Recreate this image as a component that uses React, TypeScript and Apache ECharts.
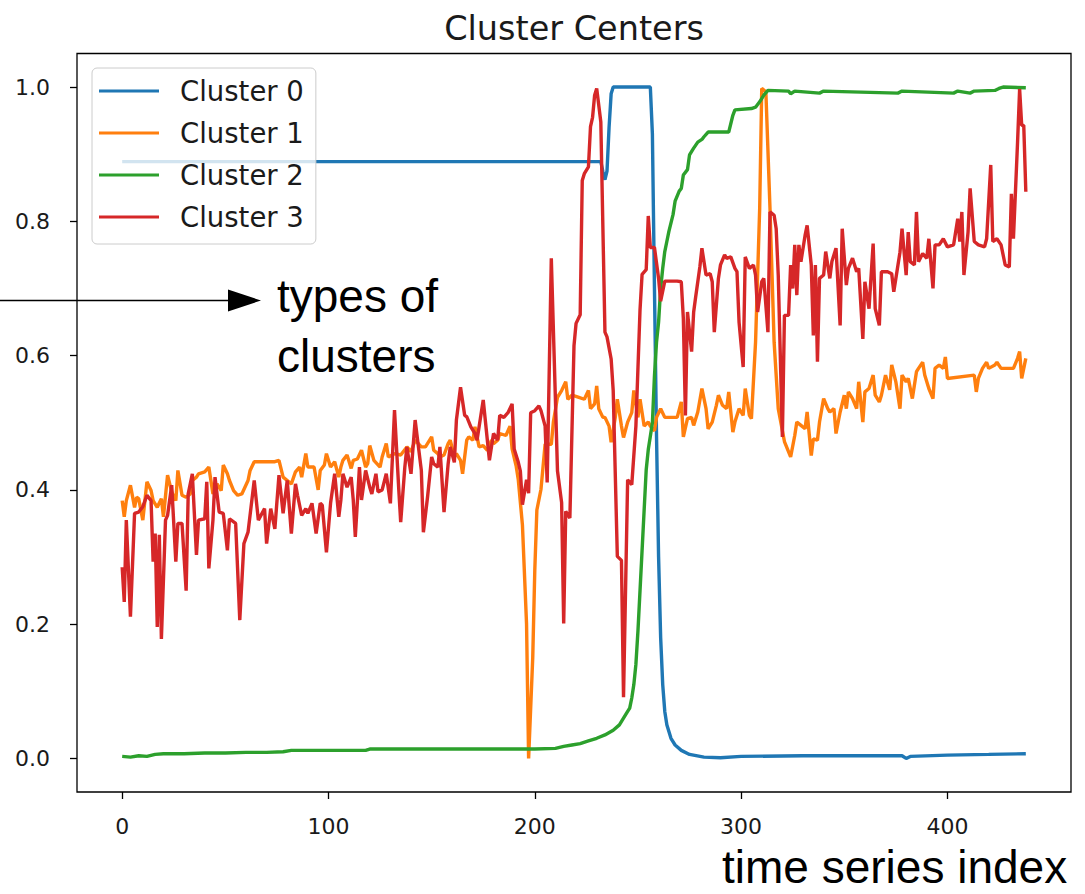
import React, { useEffect, useRef } from 'react';
import * as echarts from 'echarts';

// Series names and the tab10 colours used for them
const seriesNames = ['Cluster 0', 'Cluster 1', 'Cluster 2', 'Cluster 3'];
const seriesColors = ['#1f77b4', '#ff7f0e', '#2ca02c', '#d62728'];

// Axis ticks
const xTicks = [0, 100, 200, 300, 400];
const yTicks = [0, 0.2, 0.4, 0.6, 0.8, 1.0];
const lastIndex = 438;

// Cluster centres as [time series index, value]
const cluster0: [number, number][] = [
  [0, 0.889], [232, 0.889], [233, 0.874], [234, 0.862], [235, 0.875], [236, 0.94], [237, 0.99], [238, 1.0],
  [256, 1.0], [257, 0.93], [258, 0.7], [259, 0.48], [260, 0.3], [261, 0.18], [262, 0.11], [263, 0.07],
  [264, 0.05], [266, 0.03], [268, 0.02], [271, 0.012], [275, 0.006], [282, 0.002], [290, 0.001],
  [300, 0.003], [330, 0.004], [360, 0.004], [378, 0.004], [380, 0.0], [382, 0.003], [400, 0.005],
  [420, 0.006], [438, 0.007],
];

const cluster1: [number, number][] = [
  [0, 0.384], [1, 0.36], [2, 0.384], [4, 0.407], [6, 0.374], [7, 0.389], [8, 0.387], [10, 0.355],
  [12, 0.412], [14, 0.399], [15, 0.384], [17, 0.374], [19, 0.387], [20, 0.36], [22, 0.422], [24, 0.397],
  [26, 0.384], [27, 0.429], [29, 0.392], [31, 0.389], [33, 0.394], [34, 0.414], [36, 0.419], [37, 0.424],
  [40, 0.427], [42, 0.434], [44, 0.394], [46, 0.409], [48, 0.399], [49, 0.437], [51, 0.424], [52, 0.414],
  [54, 0.399], [56, 0.392], [58, 0.394], [61, 0.414], [62, 0.429], [64, 0.442], [74, 0.442], [76, 0.444],
  [78, 0.419], [80, 0.414], [82, 0.409], [84, 0.427], [86, 0.434], [87, 0.419], [89, 0.454], [90, 0.434],
  [93, 0.434], [95, 0.4], [96, 0.429], [98, 0.437], [99, 0.454], [101, 0.434], [103, 0.442], [105, 0.419],
  [106, 0.434], [107, 0.444], [109, 0.452], [111, 0.432], [112, 0.444], [114, 0.446], [116, 0.459],
  [118, 0.434], [119, 0.439], [120, 0.466], [122, 0.444], [125, 0.434], [126, 0.449], [128, 0.469],
  [129, 0.449], [132, 0.454], [135, 0.452], [138, 0.464], [140, 0.457], [142, 0.474], [145, 0.464],
  [147, 0.464], [150, 0.479], [151, 0.459], [153, 0.454], [154, 0.449], [156, 0.452], [158, 0.469],
  [159, 0.474], [161, 0.449], [162, 0.454], [164, 0.444], [165, 0.424], [167, 0.474], [168, 0.479],
  [170, 0.474], [171, 0.494], [173, 0.464], [175, 0.466], [177, 0.459], [179, 0.474], [180, 0.469],
  [182, 0.474], [183, 0.484], [186, 0.481], [188, 0.495], [189, 0.461], [191, 0.435], [192, 0.415],
  [194, 0.348], [196, 0.2], [197, 0.0], [199, 0.15], [200, 0.281], [201, 0.37], [203, 0.401], [205, 0.468],
  [208, 0.468], [209, 0.501], [211, 0.538], [213, 0.548], [215, 0.561], [216, 0.535], [218, 0.541],
  [221, 0.538], [224, 0.535], [226, 0.548], [227, 0.521], [229, 0.528], [230, 0.555], [231, 0.521],
  [233, 0.508], [234, 0.508], [236, 0.495], [237, 0.471], [239, 0.508], [240, 0.535], [242, 0.495],
  [243, 0.478], [245, 0.501], [247, 0.515], [248, 0.548], [250, 0.508], [251, 0.535], [253, 0.495],
  [255, 0.501], [256, 0.495], [258, 0.488], [259, 0.508], [261, 0.521], [263, 0.508], [269, 0.508],
  [271, 0.531], [272, 0.479], [274, 0.506], [276, 0.508], [277, 0.496], [279, 0.516], [281, 0.551],
  [283, 0.521], [284, 0.491], [286, 0.501], [288, 0.526], [289, 0.541], [291, 0.526], [293, 0.521],
  [294, 0.546], [296, 0.486], [297, 0.501], [299, 0.521], [301, 0.511], [302, 0.551], [304, 0.511],
  [305, 0.506], [307, 0.62], [309, 0.819], [310, 0.998], [312, 0.993], [314, 0.819], [316, 0.62],
  [318, 0.521], [321, 0.472], [324, 0.449], [326, 0.481], [327, 0.501], [329, 0.496], [331, 0.491],
  [332, 0.516], [334, 0.451], [335, 0.476], [337, 0.474], [338, 0.501], [340, 0.536], [342, 0.521],
  [343, 0.516], [345, 0.521], [346, 0.484], [348, 0.516], [350, 0.541], [351, 0.521], [352, 0.546],
  [354, 0.536], [356, 0.521], [357, 0.561], [359, 0.501], [360, 0.546], [362, 0.551], [364, 0.571],
  [365, 0.541], [367, 0.531], [368, 0.541], [370, 0.571], [372, 0.549], [373, 0.586], [375, 0.561],
  [377, 0.521], [378, 0.571], [380, 0.561], [381, 0.566], [383, 0.536], [385, 0.576], [386, 0.581],
  [388, 0.59], [389, 0.571], [391, 0.551], [393, 0.536], [394, 0.581], [396, 0.586], [398, 0.581],
  [399, 0.598], [400, 0.566], [413, 0.571], [414, 0.546], [415, 0.566], [417, 0.581], [419, 0.59],
  [420, 0.581], [423, 0.586], [424, 0.59], [426, 0.581], [432, 0.581], [434, 0.596], [435, 0.606],
  [436, 0.566], [437, 0.581], [438, 0.596],
];

const cluster2: [number, number][] = [
  [0, 0.003], [4, 0.002], [8, 0.004], [12, 0.003], [16, 0.006], [20, 0.007], [30, 0.007], [40, 0.008],
  [50, 0.008], [60, 0.009], [70, 0.009], [78, 0.01], [82, 0.012], [100, 0.012], [118, 0.012],
  [120, 0.014], [160, 0.014], [200, 0.014], [210, 0.015], [214, 0.018], [218, 0.02], [222, 0.022],
  [226, 0.026], [230, 0.03], [234, 0.035], [238, 0.042], [241, 0.05], [243, 0.06], [245, 0.07],
  [246, 0.075], [247, 0.09], [248, 0.11], [249, 0.14], [250, 0.19], [251, 0.25], [252, 0.31],
  [253, 0.37], [254, 0.43], [255, 0.46], [256, 0.48], [257, 0.5], [258, 0.57], [259, 0.62], [260, 0.65],
  [261, 0.7], [262, 0.73], [263, 0.755], [264, 0.77], [265, 0.785], [267, 0.81], [268, 0.83],
  [270, 0.845], [271, 0.849], [272, 0.869], [274, 0.877], [275, 0.899], [277, 0.909], [279, 0.918],
  [281, 0.922], [282, 0.926], [284, 0.933], [294, 0.933], [296, 0.958], [297, 0.966], [305, 0.968],
  [307, 0.97], [309, 0.978], [311, 0.988], [313, 0.995], [323, 0.994], [324, 0.99], [326, 0.994],
  [338, 0.991], [340, 0.994], [376, 0.991], [378, 0.994], [403, 0.991], [405, 0.994], [411, 0.991],
  [413, 0.994], [423, 0.995], [425, 0.998], [427, 1.0], [438, 0.999],
];

const cluster3: [number, number][] = [
  [0, 0.285], [1, 0.233], [2, 0.355], [4, 0.211], [6, 0.365], [8, 0.367], [10, 0.375], [12, 0.392],
  [14, 0.384], [15, 0.293], [16, 0.335], [17, 0.196], [18, 0.333], [19, 0.178], [21, 0.355], [22, 0.362],
  [24, 0.407], [26, 0.293], [27, 0.35], [29, 0.35], [31, 0.25], [32, 0.394], [34, 0.424], [36, 0.303],
  [37, 0.355], [40, 0.357], [41, 0.412], [42, 0.283], [44, 0.355], [45, 0.419], [47, 0.367], [49, 0.365],
  [51, 0.31], [52, 0.357], [55, 0.35], [57, 0.206], [59, 0.32], [61, 0.337], [64, 0.414], [66, 0.355],
  [69, 0.372], [70, 0.32], [72, 0.372], [74, 0.342], [76, 0.422], [78, 0.365], [80, 0.414], [82, 0.335],
  [84, 0.409], [85, 0.392], [87, 0.362], [89, 0.372], [90, 0.365], [92, 0.38], [94, 0.335], [96, 0.38],
  [97, 0.377], [99, 0.307], [101, 0.38], [103, 0.424], [105, 0.36], [106, 0.385], [107, 0.424],
  [109, 0.404], [111, 0.419], [112, 0.385], [113, 0.33], [115, 0.434], [116, 0.385], [118, 0.429],
  [120, 0.404], [121, 0.394], [123, 0.424], [124, 0.397], [126, 0.4], [128, 0.424], [130, 0.38],
  [132, 0.519], [134, 0.404], [135, 0.352], [137, 0.434], [138, 0.464], [140, 0.424], [142, 0.504],
  [143, 0.479], [145, 0.429], [146, 0.337], [148, 0.389], [150, 0.449], [151, 0.439], [153, 0.434],
  [154, 0.464], [156, 0.367], [158, 0.439], [159, 0.464], [161, 0.441], [162, 0.504], [164, 0.553],
  [166, 0.511], [167, 0.509], [169, 0.494], [171, 0.484], [172, 0.474], [175, 0.534], [177, 0.474],
  [178, 0.444], [180, 0.484], [182, 0.474], [183, 0.511], [185, 0.508], [187, 0.515], [189, 0.528],
  [190, 0.461], [192, 0.441], [193, 0.428], [194, 0.378], [196, 0.415], [197, 0.395], [198, 0.515],
  [200, 0.518], [202, 0.525], [203, 0.518], [205, 0.495], [206, 0.411], [208, 0.745], [211, 0.428],
  [213, 0.381], [214, 0.201], [215, 0.368], [217, 0.358], [219, 0.615], [220, 0.648], [222, 0.661],
  [223, 0.861], [224, 0.871], [226, 0.881], [227, 0.941], [228, 0.955], [229, 0.988], [230, 0.998],
  [232, 0.948], [234, 0.635], [235, 0.628], [237, 0.595], [238, 0.548], [240, 0.301], [242, 0.295],
  [243, 0.091], [245, 0.415], [247, 0.408], [249, 0.495], [251, 0.668], [252, 0.721], [254, 0.728],
  [255, 0.808], [256, 0.761], [258, 0.761], [260, 0.715], [261, 0.681], [263, 0.711], [269, 0.711],
  [271, 0.71], [272, 0.655], [273, 0.511], [274, 0.665], [276, 0.606], [277, 0.665], [278, 0.688],
  [280, 0.732], [281, 0.76], [283, 0.72], [285, 0.722], [286, 0.71], [287, 0.635], [289, 0.715],
  [290, 0.735], [292, 0.75], [293, 0.745], [295, 0.747], [297, 0.73], [298, 0.725], [299, 0.65],
  [301, 0.583], [302, 0.747], [304, 0.73], [306, 0.735], [307, 0.72], [308, 0.665], [310, 0.71],
  [311, 0.715], [313, 0.635], [314, 0.814], [316, 0.809], [317, 0.789], [318, 0.72], [320, 0.479],
  [321, 0.66], [323, 0.66], [324, 0.735], [325, 0.7], [326, 0.765], [327, 0.69], [328, 0.765],
  [329, 0.74], [331, 0.779], [332, 0.794], [334, 0.735], [335, 0.63], [336, 0.735], [337, 0.591],
  [338, 0.715], [340, 0.72], [341, 0.755], [343, 0.715], [344, 0.74], [346, 0.76], [348, 0.645],
  [349, 0.789], [351, 0.705], [352, 0.73], [354, 0.745], [356, 0.725], [357, 0.73], [359, 0.625],
  [360, 0.71], [362, 0.67], [364, 0.767], [365, 0.67], [367, 0.645], [368, 0.725], [371, 0.725],
  [373, 0.722], [374, 0.695], [377, 0.754], [378, 0.789], [380, 0.72], [381, 0.784], [382, 0.74],
  [384, 0.735], [385, 0.814], [386, 0.74], [388, 0.752], [390, 0.745], [391, 0.774], [393, 0.7],
  [394, 0.765], [396, 0.765], [398, 0.774], [400, 0.762], [403, 0.765], [405, 0.804], [406, 0.77],
  [407, 0.814], [408, 0.72], [410, 0.784], [411, 0.849], [413, 0.77], [415, 0.765], [418, 0.762],
  [419, 0.774], [421, 0.884], [422, 0.77], [424, 0.774], [426, 0.765], [428, 0.735], [430, 0.732],
  [431, 0.841], [432, 0.774], [434, 0.918], [435, 0.997], [436, 0.943], [437, 0.943], [438, 0.844],
];

const clusterData = [cluster0, cluster1, cluster2, cluster3];

const TICK_FONT = 'DejaVu Sans';
const NOTE_FONT = 'Liberation Sans';

export default function App() {
  const ref = useRef<HTMLDivElement>(null);

  useEffect(() => {
    if (!ref.current) return;
    const chart = echarts.init(ref.current, null, { renderer: 'svg' });
    const xPad = 0.05 * lastIndex;

    const tickStyle = { color: '#000', width: 1.3 };

    chart.setOption({
      animation: false,
      backgroundColor: '#ffffff',
      title: {
        text: 'Cluster Centers',
        left: 569,
        top: 6,
        textAlign: 'center',
        textStyle: { fontFamily: TICK_FONT, fontSize: 33.5, fontWeight: 'normal', color: '#1a1a1a' },
      },
      grid: {
        left: 77,
        right: 14,
        top: 53.5,
        bottom: 102,
        show: true,
        borderColor: '#000',
        borderWidth: 1.3,
        backgroundColor: 'transparent',
        containLabel: false,
      },
      legend: {
        orient: 'vertical',
        left: 92,
        top: 68,
        data: seriesNames,
        icon: 'rect',
        itemWidth: 60,
        itemHeight: 3,
        itemGap: 14,
        padding: [9, 12, 13, 7],
        backgroundColor: 'rgba(255,255,255,0.8)',
        borderColor: '#cccccc',
        borderWidth: 1,
        borderRadius: 5,
        textStyle: {
          fontFamily: TICK_FONT,
          fontSize: 27.5,
          color: '#1a1a1a',
          padding: [0, 0, 0, 16],
        },
      },
      xAxis: {
        type: 'value',
        min: -xPad,
        max: lastIndex + xPad,
        splitLine: { show: false },
        axisLine: { show: false, onZero: false },
        axisTick: {
          show: true,
          inside: false,
          length: 7,
          customValues: xTicks,
          lineStyle: tickStyle,
        },
        axisLabel: {
          customValues: xTicks,
          margin: 23,
          fontFamily: TICK_FONT,
          fontSize: 22,
          color: '#1a1a1a',
          formatter: (v: number) => String(v),
        },
      },
      yAxis: {
        type: 'value',
        min: -0.05,
        max: 1.05,
        splitLine: { show: false },
        axisLine: { show: false, onZero: false },
        axisTick: {
          show: true,
          inside: false,
          length: 7,
          customValues: yTicks,
          lineStyle: tickStyle,
        },
        axisLabel: {
          customValues: yTicks,
          margin: 27,
          fontFamily: TICK_FONT,
          fontSize: 22,
          color: '#1a1a1a',
          formatter: (v: number) => v.toFixed(1),
        },
      },
      series: clusterData.map((d, i) => ({
        name: seriesNames[i],
        type: 'line',
        data: d,
        showSymbol: false,
        symbol: 'none',
        color: seriesColors[i],
        lineStyle: { width: 3.4, color: seriesColors[i] },
        emphasis: { disabled: true },
      })),
      graphic: [
        {
          type: 'line',
          z: 100,
          shape: { x1: 0, y1: 300.5, x2: 232, y2: 300.5 },
          style: { stroke: '#000', lineWidth: 1.5 },
        },
        {
          type: 'polygon',
          z: 100,
          shape: { points: [[228, 289.5], [261, 300.5], [228, 311.5]] },
          style: { fill: '#000' },
        },
        {
          type: 'text',
          z: 100,
          x: 277,
          y: 296,
          style: { text: 'types of', font: `46px '${NOTE_FONT}'`, fill: '#000', textVerticalAlign: 'middle' },
        },
        {
          type: 'text',
          z: 100,
          x: 277,
          y: 356,
          style: { text: 'clusters', font: `46px '${NOTE_FONT}'`, fill: '#000', textVerticalAlign: 'middle' },
        },
        {
          type: 'text',
          z: 100,
          x: 722,
          y: 867,
          style: { text: 'time series index', font: `46px '${NOTE_FONT}'`, fill: '#000', textVerticalAlign: 'middle' },
        },
      ],
    });

    return () => chart.dispose();
  }, []);

  return (
    <div
      ref={ref}
      style={{ position: 'fixed', left: 0, top: 0, width: 1085, height: 894, background: '#fff' }}
    />
  );
}
